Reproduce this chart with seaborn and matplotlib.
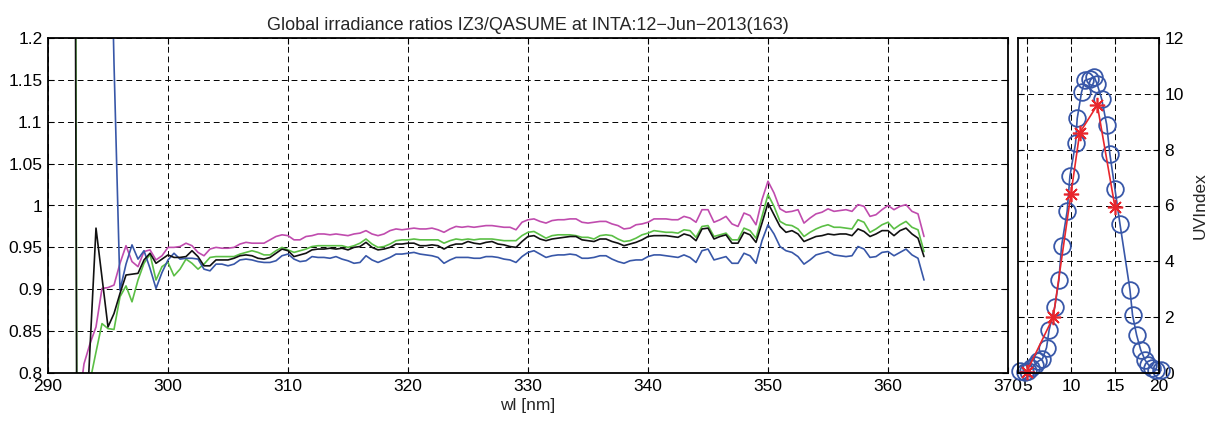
import numpy as np
import pandas as pd
import matplotlib
matplotlib.use("Agg")
import matplotlib.pyplot as plt
import seaborn as sns

# ---------------- data ----------------
wl_start, wl_stop, wl_step = 292.0, 363.0, 0.5

magenta = [
    0.60, 0.756, 0.811, 0.835, 0.855, 0.901, 0.902, 0.905, 0.931, 0.952,
    0.933, 0.927, 0.945, 0.947, 0.935, 0.940, 0.950, 0.950, 0.951, 0.955,
    0.952, 0.944, 0.940, 0.948, 0.950, 0.949, 0.949, 0.950, 0.954, 0.956,
    0.955, 0.955, 0.955, 0.959, 0.963, 0.965, 0.964, 0.959, 0.959, 0.963,
    0.964, 0.966, 0.966, 0.965, 0.966, 0.965, 0.964, 0.966, 0.967, 0.970,
    0.966, 0.964, 0.966, 0.970, 0.972, 0.971, 0.972, 0.973, 0.972, 0.972,
    0.973, 0.971, 0.968, 0.972, 0.975, 0.974, 0.975, 0.974, 0.975, 0.976,
    0.976, 0.975, 0.974, 0.974, 0.971, 0.980, 0.983, 0.984, 0.981, 0.979,
    0.982, 0.983, 0.983, 0.984, 0.984, 0.980, 0.979, 0.980, 0.981, 0.981,
    0.978, 0.976, 0.972, 0.973, 0.977, 0.978, 0.980, 0.984, 0.984, 0.984,
    0.983, 0.983, 0.987, 0.985, 0.980, 0.995, 0.995, 0.980, 0.983, 0.987,
    0.978, 0.975, 0.991, 0.988, 0.977, 1.007, 1.029, 1.015, 0.996, 0.992,
    0.993, 0.995, 0.979, 0.985, 0.990, 0.992, 0.996, 0.993, 0.994, 0.995,
    0.993, 1.001, 0.999, 0.987, 0.989, 0.995, 1.000, 0.995, 0.999, 1.001,
    0.993, 0.990, 0.963,
]

green = [
    3.0, 0.2, 0.5, 0.79, 0.825, 0.859, 0.853, 0.852, 0.891, 0.904,
    0.885, 0.911, 0.931, 0.942, 0.911, 0.927, 0.932, 0.916, 0.924, 0.936,
    0.931, 0.924, 0.930, 0.938, 0.939, 0.939, 0.939, 0.939, 0.942, 0.944,
    0.946, 0.944, 0.941, 0.941, 0.946, 0.950, 0.947, 0.944, 0.946, 0.948,
    0.951, 0.952, 0.952, 0.952, 0.952, 0.952, 0.950, 0.952, 0.955, 0.960,
    0.954, 0.950, 0.951, 0.954, 0.958, 0.959, 0.959, 0.960, 0.959, 0.959,
    0.959, 0.959, 0.955, 0.958, 0.960, 0.959, 0.960, 0.959, 0.960, 0.960,
    0.960, 0.959, 0.958, 0.958, 0.958, 0.964, 0.968, 0.969, 0.965, 0.961,
    0.964, 0.965, 0.965, 0.965, 0.964, 0.962, 0.962, 0.960, 0.964, 0.965,
    0.964, 0.960, 0.957, 0.958, 0.961, 0.965, 0.967, 0.970, 0.969, 0.968,
    0.968, 0.967, 0.971, 0.970, 0.962, 0.975, 0.976, 0.963, 0.965, 0.967,
    0.959, 0.959, 0.973, 0.970, 0.961, 0.987, 1.013, 0.999, 0.981, 0.977,
    0.976, 0.972, 0.963, 0.968, 0.972, 0.975, 0.977, 0.974, 0.974, 0.973,
    0.972, 0.983, 0.980, 0.968, 0.972, 0.977, 0.980, 0.972, 0.977, 0.981,
    0.974, 0.971, 0.945,
]

black = [
    2.5, 0.3, 0.68, 0.83, 0.973, 0.914, 0.855, 0.871, 0.895, 0.917,
    0.918, 0.919, 0.935, 0.943, 0.931, 0.936, 0.941, 0.938, 0.938, 0.939,
    0.946, 0.939, 0.928, 0.928, 0.935, 0.935, 0.935, 0.937, 0.940, 0.941,
    0.940, 0.937, 0.936, 0.938, 0.943, 0.948, 0.946, 0.939, 0.941, 0.943,
    0.947, 0.948, 0.948, 0.949, 0.948, 0.949, 0.947, 0.950, 0.951, 0.956,
    0.950, 0.947, 0.948, 0.950, 0.954, 0.954, 0.955, 0.955, 0.952, 0.952,
    0.953, 0.952, 0.948, 0.952, 0.954, 0.954, 0.957, 0.955, 0.954, 0.956,
    0.957, 0.954, 0.953, 0.951, 0.950, 0.957, 0.963, 0.964, 0.960, 0.958,
    0.960, 0.961, 0.962, 0.963, 0.963, 0.959, 0.958, 0.957, 0.960, 0.960,
    0.957, 0.955, 0.952, 0.954, 0.956, 0.959, 0.963, 0.964, 0.964, 0.964,
    0.963, 0.962, 0.966, 0.964, 0.958, 0.972, 0.973, 0.960, 0.963, 0.965,
    0.955, 0.955, 0.968, 0.965, 0.956, 0.979, 1.003, 0.989, 0.975, 0.968,
    0.970, 0.966, 0.957, 0.960, 0.963, 0.964, 0.966, 0.965, 0.966, 0.966,
    0.964, 0.972, 0.969, 0.963, 0.966, 0.970, 0.970, 0.964, 0.970, 0.973,
    0.966, 0.961, 0.939,
]

nan = np.nan
blue = [
    nan, nan, nan, nan, nan, nan, 1.50, 1.17, 0.899, 0.930,
    0.953, 0.936, 0.946, 0.925, 0.901, 0.920, 0.935, 0.943, 0.936, 0.937,
    0.937, 0.936, 0.924, 0.922, 0.930, 0.930, 0.928, 0.930, 0.935, 0.936,
    0.935, 0.933, 0.932, 0.932, 0.934, 0.940, 0.942, 0.936, 0.933, 0.934,
    0.939, 0.938, 0.938, 0.937, 0.939, 0.936, 0.934, 0.931, 0.932, 0.940,
    0.935, 0.932, 0.935, 0.938, 0.942, 0.942, 0.943, 0.944, 0.942, 0.941,
    0.940, 0.938, 0.931, 0.935, 0.938, 0.938, 0.938, 0.937, 0.937, 0.939,
    0.939, 0.938, 0.936, 0.935, 0.932, 0.939, 0.944, 0.946, 0.942, 0.938,
    0.940, 0.941, 0.941, 0.942, 0.941, 0.937, 0.937, 0.938, 0.940, 0.940,
    0.936, 0.933, 0.931, 0.934, 0.935, 0.935, 0.939, 0.941, 0.941, 0.940,
    0.939, 0.938, 0.941, 0.938, 0.932, 0.946, 0.948, 0.935, 0.937, 0.939,
    0.931, 0.931, 0.943, 0.940, 0.931, 0.958, 0.977, 0.966, 0.951, 0.946,
    0.944, 0.939, 0.930, 0.935, 0.941, 0.943, 0.945, 0.941, 0.940, 0.939,
    0.940, 0.951, 0.948, 0.938, 0.939, 0.944, 0.945, 0.940, 0.944, 0.948,
    0.941, 0.937, 0.911,
]

# UV index panel
uv_hours = [4.28, 4.77, 5.15, 5.53, 5.91, 6.29, 6.78, 7.24, 7.53, 8.18, 8.64, 8.94,
            9.58, 9.89, 10.53, 10.72, 11.21, 11.59, 12.16, 12.65, 12.99, 13.49,
            14.06, 14.43, 15.0, 15.57, 16.7, 17.0, 17.46, 17.92, 18.41, 18.79,
            19.17, 19.66, 20.19]
uv_index = [0.06, 0.02, 0.08, 0.18, 0.30, 0.42, 0.51, 0.91, 1.54, 2.38, 3.33, 4.54,
            5.80, 7.05, 8.23, 9.12, 10.06, 10.48, 10.54, 10.61, 10.34, 9.82,
            8.90, 7.83, 6.59, 5.34, 2.99, 2.07, 1.36, 0.83, 0.47, 0.30,
            0.18, 0.12, 0.09]
meas_hours = [5.0, 8.0, 10.0, 11.0, 13.0, 15.0]
meas_uv = [0.05, 2.0, 6.4, 8.6, 9.6, 5.95]

main_xticks = [290, 300, 310, 320, 330, 340, 350, 360, 370]
main_yticks = [0.8, 0.85, 0.9, 0.95, 1.0, 1.05, 1.1, 1.15, 1.2]
uv_xticks = [5, 10, 15, 20]
uv_yticks = [0, 2, 4, 6, 8, 10, 12]

title = "Global irradiance ratios IZ3/QASUME at INTA:12\u2212Jun\u22122013(163)"

# ---------------- styling ----------------
sns.set_theme(style="white")
plt.rcParams["font.family"] = ["Liberation Sans", "DejaVu Sans"]
plt.rcParams["axes.unicode_minus"] = True

col_mag = "#C04CAE"
col_grn = "#5BBF45"
col_blk = "#111111"
col_blu = "#3857A8"
col_red = "#E8262C"

n = len(magenta)
wl = wl_start + wl_step * np.arange(n)
df = pd.DataFrame({"wl": wl, "magenta": magenta, "green": green,
                   "black": black, "blue": blue})

fig = plt.figure(figsize=(12.08, 4.21), dpi=100)
ax = fig.add_axes([48 / 1208, 1 - 373 / 421, 960 / 1208, 335 / 421])
ax2 = fig.add_axes([1018 / 1208, 1 - 373 / 421, 141 / 1208, 335 / 421])

for name, col in [("magenta", col_mag), ("green", col_grn),
                  ("blue", col_blu), ("black", col_blk)]:
    sub = df[["wl", name]].dropna()
    sns.lineplot(data=sub, x="wl", y=name, ax=ax, color=col, lw=1.2,
                 estimator=None, sort=False)

ax.set_xlim(290, 370)
ax.set_ylim(0.8, 1.2)
ax.set_xticks(main_xticks)
ax.set_yticks(main_yticks)
ax.set_xticklabels([f"{v:g}" for v in main_xticks])
ax.set_yticklabels([f"{v:g}" for v in main_yticks])
ax.set_xlabel("wl [nm]", fontsize=12.5, labelpad=3)
ax.set_ylabel("")
ax.set_title(title, fontsize=13, pad=6)

uvdf = pd.DataFrame({"h": uv_hours, "uv": uv_index})
mdf = pd.DataFrame({"h": meas_hours, "uv": meas_uv})
sns.lineplot(data=uvdf, x="h", y="uv", ax=ax2, color=col_blu, lw=1.2,
             marker="o", markersize=12, markerfacecolor="none",
             markeredgecolor=col_blu, markeredgewidth=1.3,
             estimator=None, sort=False, clip_on=False)
sns.lineplot(data=mdf, x="h", y="uv", ax=ax2, color=col_red, lw=1.2,
             marker=(8, 2, 0), markersize=11, markeredgecolor=col_red,
             markeredgewidth=1.2, estimator=None, sort=False,
             clip_on=False)
ax2.set_xlim(4, 20)
ax2.set_ylim(0, 12)
ax2.set_xticks(uv_xticks)
ax2.set_yticks(uv_yticks)
ax2.yaxis.tick_right()
ax2.yaxis.set_label_position("right")
ax2.set_ylabel("UVIndex", fontsize=12.5, labelpad=6)
ax2.set_xlabel("")

for a in (ax, ax2):
    a.grid(True, color="black", linestyle=(0, (6, 4)), linewidth=0.7)
    a.set_axisbelow(True)
    for s in a.spines.values():
        s.set_color("black")
        s.set_linewidth(1.3)
        s.set_visible(True)
    a.tick_params(direction="in", length=4, width=0.8, labelsize=12.5,
                  colors="black", top=True, right=True, left=True, bottom=True,
                  pad=4)
ax2.tick_params(labelleft=False, labelright=True)

fig.savefig("out.png", dpi=100)
